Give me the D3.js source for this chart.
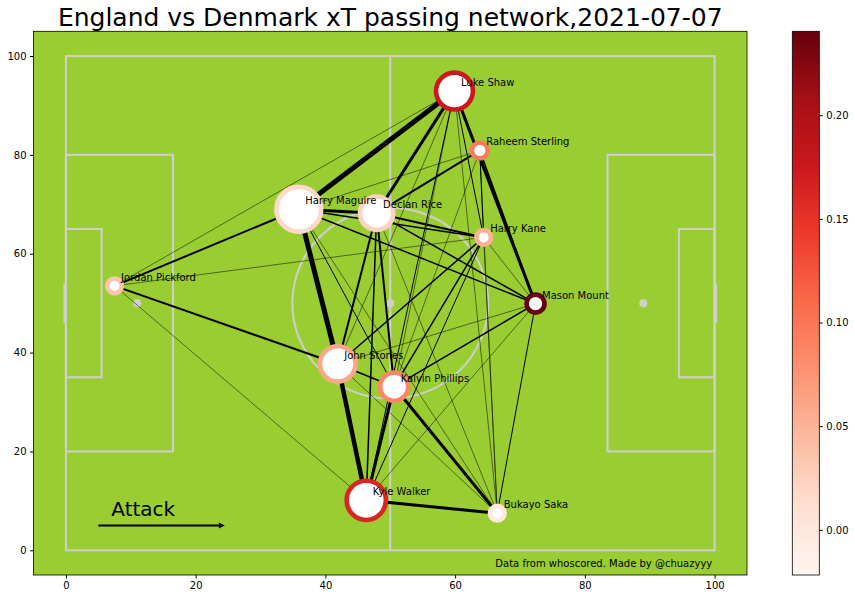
<!DOCTYPE html>
<html>
<head>
    <meta charset="utf-8">
    <script src="https://d3js.org/d3.v7.min.js"></script>
    <style>
        body { margin: 0; background: #fff; }
        text { font-family: "DejaVu Sans", sans-serif; }
    </style>
</head>
<body>
    <div id="chart"></div>
    <script>
        // players: average position (0-100 pitch), number of passes, xT
        const players = ["Jordan Pickford", "Kyle Walker", "John Stones", "Harry Maguire", "Luke Shaw",
            "Declan Rice", "Kalvin Phillips", "Bukayo Saka", "Mason Mount", "Raheem Sterling", "Harry Kane"];
        const avgX = [7.5, 46.3, 41.9, 35.9, 59.9, 47.9, 50.6, 66.5, 72.4, 63.8, 64.4];
        const avgY = [53.5, 10.1, 37.7, 69.0, 92.9, 68.2, 33.1, 7.5, 49.9, 80.9, 63.3];
        const passCount = [6, 43, 35, 56, 38, 31, 22, 6, 9, 7, 6];
        const playerXT = [0.036, 0.162, 0.060, 0.018, 0.175, 0.023, 0.086, -0.001, 0.2405, 0.096, 0.052];

        // passes between pairs of players [from, to, count]
        const pairs = [
            ["Harry Maguire", "Luke Shaw", 10], ["Harry Maguire", "John Stones", 10],
            ["John Stones", "Kyle Walker", 9], ["Harry Maguire", "Declan Rice", 6],
            ["Luke Shaw", "Declan Rice", 6], ["Luke Shaw", "Mason Mount", 6],
            ["Kyle Walker", "Kalvin Phillips", 6], ["Kalvin Phillips", "Bukayo Saka", 6],
            ["Kyle Walker", "Bukayo Saka", 6], ["Jordan Pickford", "Harry Maguire", 4],
            ["Jordan Pickford", "John Stones", 4], ["Declan Rice", "Raheem Sterling", 4],
            ["Declan Rice", "Harry Kane", 4], ["John Stones", "Declan Rice", 4],
            ["Kalvin Phillips", "Declan Rice", 4], ["Kyle Walker", "Declan Rice", 3],
            ["John Stones", "Kalvin Phillips", 3], ["Raheem Sterling", "Mason Mount", 3],
            ["Harry Maguire", "Mason Mount", 3], ["Declan Rice", "Mason Mount", 3],
            ["Harry Maguire", "Harry Kane", 3], ["John Stones", "Harry Kane", 3],
            ["Kalvin Phillips", "Harry Kane", 3], ["Kalvin Phillips", "Mason Mount", 3],
            ["Raheem Sterling", "Harry Kane", 2], ["Mason Mount", "Bukayo Saka", 2],
            ["Harry Maguire", "Kalvin Phillips", 2], ["Luke Shaw", "Harry Kane", 2],
            ["Kyle Walker", "Harry Kane", 2], ["Luke Shaw", "Kyle Walker", 2],
            ["Luke Shaw", "Kalvin Phillips", 1], ["Luke Shaw", "John Stones", 1],
            ["Luke Shaw", "Bukayo Saka", 1], ["Jordan Pickford", "Kyle Walker", 1],
            ["Jordan Pickford", "Luke Shaw", 1], ["Jordan Pickford", "Harry Kane", 1],
            ["Harry Maguire", "Raheem Sterling", 1], ["Raheem Sterling", "Kalvin Phillips", 1],
            ["Raheem Sterling", "Bukayo Saka", 1], ["Harry Kane", "Bukayo Saka", 1],
            ["John Stones", "Mason Mount", 1], ["Kyle Walker", "Mason Mount", 1],
            ["Declan Rice", "Bukayo Saka", 1], ["Harry Maguire", "Bukayo Saka", 1],
            ["John Stones", "Bukayo Saka", 1], ["Harry Kane", "Mason Mount", 1]
        ];

        const xTicks = [0, 20, 40, 60, 80, 100];
        const yTicks = [0, 20, 40, 60, 80, 100];
        const cbarTicks = [0, 0.05, 0.10, 0.15, 0.20];
        const cbarRange = [-0.0218, 0.2405];
        const redsColors = ["#fff5f0", "#fee0d2", "#fcbba1", "#fc9272", "#fb6a4a", "#ef3b2c", "#cb181d", "#a50f15", "#67000d"];

        const W = 855, H = 599;
        const plot = { left: 33.5, right: 747, top: 31.3, bottom: 575 };
        const cbar = { left: 792.3, right: 819.3 };

        const svg = d3.select("#chart").append("svg")
            .attr("width", W).attr("height", H);

        const x = d3.scaleLinear().domain([-5, 105]).range([plot.left, plot.right]);
        const y = d3.scaleLinear().domain([-5, 105]).range([plot.bottom, plot.top]);

        // colour scale like matplotlib "Reds"
        const vmin = cbarRange[0], vmax = cbarRange[1];
        const color = d3.scaleLinear()
            .domain(redsColors.map((c, i) => vmin + (vmax - vmin) * i / (redsColors.length - 1)))
            .range(redsColors);

        const rScale = d3.scaleSqrt().domain([0, d3.max(passCount)]).range([0, 22.4]);

        // title
        svg.append("text")
            .attr("x", (plot.left + plot.right) / 2).attr("y", 26)
            .attr("text-anchor", "middle")
            .style("font-size", "25px")
            .text("England vs Denmark xT passing network,2021-07-07");

        // pitch background
        svg.append("rect")
            .attr("x", plot.left).attr("y", plot.top)
            .attr("width", plot.right - plot.left).attr("height", plot.bottom - plot.top)
            .attr("fill", "#9acd32");

        const pitch = svg.append("g")
            .attr("fill", "none").attr("stroke", "#cfcfcf").attr("stroke-width", 2);

        function box(x0, y0, x1, y1) {
            pitch.append("rect")
                .attr("x", x(x0)).attr("y", y(y1))
                .attr("width", x(x1) - x(x0)).attr("height", y(y0) - y(y1));
        }
        box(0, 0, 100, 100);
        box(0, 20, 16.5, 80);
        box(83.5, 20, 100, 80);
        box(0, 35, 5.5, 65);
        box(94.5, 35, 100, 65);
        pitch.append("line")
            .attr("x1", x(50)).attr("x2", x(50)).attr("y1", y(0)).attr("y2", y(100));
        pitch.append("ellipse")
            .attr("cx", x(50)).attr("cy", y(50))
            .attr("rx", x(15.1) - x(0)).attr("ry", y(0) - y(19.3));
        // goals
        [-0.2, 100.2].forEach(function (gx) {
            pitch.append("line")
                .attr("x1", x(gx)).attr("x2", x(gx))
                .attr("y1", y(46)).attr("y2", y(54))
                .attr("stroke-width", 2.5);
        });
        // spots
        [11, 50, 89].forEach(function (sx) {
            svg.append("circle")
                .attr("cx", x(sx)).attr("cy", y(50)).attr("r", 4)
                .attr("fill", "#cfcfcf");
        });

        // pass lines
        const idx = name => players.indexOf(name);
        svg.append("g")
            .selectAll("line")
            .data(pairs)
            .join("line")
            .attr("x1", d => x(avgX[idx(d[0])]))
            .attr("y1", d => y(avgY[idx(d[0])]))
            .attr("x2", d => x(avgX[idx(d[1])]))
            .attr("y2", d => y(avgY[idx(d[1])]))
            .attr("stroke", "black")
            .attr("stroke-width", d => d[2] * 0.5);

        // player nodes
        const nodes = players.map(function (p, i) {
            return { name: p, x: avgX[i], y: avgY[i], n: passCount[i], xt: playerXT[i] };
        });
        svg.append("g")
            .selectAll("circle")
            .data(nodes)
            .join("circle")
            .attr("cx", d => x(d.x)).attr("cy", d => y(d.y))
            .attr("r", d => rScale(d.n))
            .attr("fill", "white")
            .attr("stroke", d => color(d.xt))
            .attr("stroke-width", 4.6);

        svg.append("g")
            .selectAll("text")
            .data(nodes)
            .join("text")
            .attr("x", d => x(d.x + 1)).attr("y", d => y(d.y + 1))
            .style("font-size", "10px")
            .text(d => d.name);

        // attack arrow
        svg.append("line")
            .attr("x1", x(5)).attr("y1", y(5))
            .attr("x2", x(24.5) - 5).attr("y2", y(5))
            .attr("stroke", "black").attr("stroke-width", 2);
        svg.append("path")
            .attr("d", `M${x(24.5)},${y(5)} L${x(24.5) - 6},${y(5) - 3} L${x(24.5) - 6},${y(5) + 3} Z`)
            .attr("fill", "black");
        svg.append("text")
            .attr("x", x(7)).attr("y", y(7))
            .style("font-size", "20px")
            .text("Attack");

        svg.append("text")
            .attr("x", x(66.2)).attr("y", y(-3.4))
            .style("font-size", "10px")
            .text("Data from whoscored. Made by @chuazyyy");

        // axes
        const xAxis = svg.append("g")
            .attr("transform", `translate(0,${plot.bottom})`)
            .call(d3.axisBottom(x).tickValues(xTicks).tickSize(3.5).tickPadding(3.5));
        const yAxis = svg.append("g")
            .attr("transform", `translate(${plot.left},0)`)
            .call(d3.axisLeft(y).tickValues(yTicks).tickSize(3.5).tickPadding(3.5));
        [xAxis, yAxis].forEach(function (a) {
            a.select(".domain").remove();
            a.selectAll("text").style("font-size", "10px").style("font-family", "DejaVu Sans");
        });

        svg.append("rect")
            .attr("x", plot.left).attr("y", plot.top)
            .attr("width", plot.right - plot.left).attr("height", plot.bottom - plot.top)
            .attr("fill", "none").attr("stroke", "black").attr("stroke-width", 0.8);

        // colorbar
        const grad = svg.append("defs").append("linearGradient")
            .attr("id", "reds").attr("x1", 0).attr("y1", 1).attr("x2", 0).attr("y2", 0);
        redsColors.forEach(function (c, i) {
            grad.append("stop")
                .attr("offset", i / (redsColors.length - 1))
                .attr("stop-color", c);
        });
        svg.append("rect")
            .attr("x", cbar.left).attr("y", plot.top)
            .attr("width", cbar.right - cbar.left).attr("height", plot.bottom - plot.top)
            .attr("fill", "url(#reds)")
            .attr("stroke", "black").attr("stroke-width", 0.8);

        const yc = d3.scaleLinear().domain([vmin, vmax]).range([plot.bottom, plot.top]);
        const cAxis = svg.append("g")
            .attr("transform", `translate(${cbar.right},0)`)
            .call(d3.axisRight(yc).tickValues(cbarTicks).tickFormat(d3.format(".2f")).tickSize(3.5).tickPadding(3.5));
        cAxis.select(".domain").remove();
        cAxis.selectAll("text").style("font-size", "10px").style("font-family", "DejaVu Sans");
    </script>
</body>
</html>
